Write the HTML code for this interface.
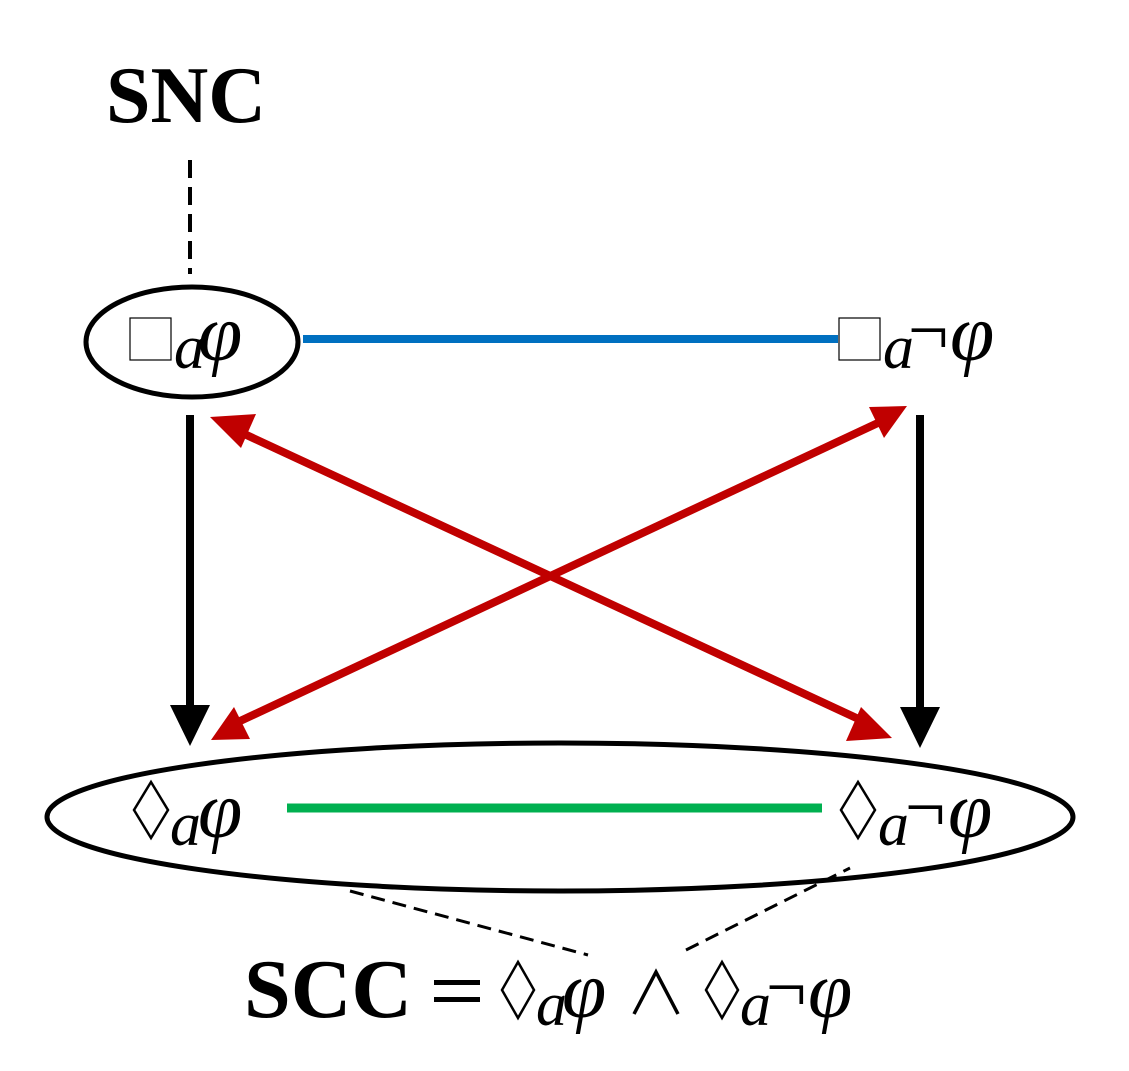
<!DOCTYPE html>
<html><head><meta charset="utf-8"><style>
html,body{margin:0;padding:0;background:#fff;}
svg{display:block;}
text{font-family:"Liberation Serif","DejaVu Serif",serif;}
</style></head><body>
<svg width="1129" height="1071" viewBox="0 0 1129 1071" xmlns="http://www.w3.org/2000/svg">
<text x="106" y="122" font-size="80" font-weight="bold">SNC</text>
<line x1="190" y1="160" x2="190" y2="274" stroke="#000" stroke-width="4" stroke-dasharray="18,9"/>
<ellipse cx="192" cy="342" rx="106" ry="55" fill="none" stroke="#000" stroke-width="5"/>
<line x1="303" y1="339" x2="838" y2="339" stroke="#0070C0" stroke-width="8"/>
<!-- top left label -->
<rect x="130" y="318" width="41" height="42" fill="none" stroke="#000" stroke-width="1.2"/>
<text x="174" y="368" font-size="62" font-style="italic">a</text>
<text x="198" y="360" font-size="80" font-style="italic">φ</text>
<!-- top right label -->
<rect x="839" y="318" width="41" height="42" fill="none" stroke="#000" stroke-width="1.2"/>
<text x="883" y="368" font-size="62" font-style="italic">a</text>
<text x="908" y="354" font-size="72">¬</text>
<text x="950" y="360" font-size="80" font-style="italic">φ</text>
<!-- black arrows -->
<line x1="190" y1="415" x2="190" y2="710" stroke="#000" stroke-width="8"/>
<polygon points="170,705 210,705 190,746" fill="#000"/>
<line x1="920" y1="415" x2="920" y2="710" stroke="#000" stroke-width="8"/>
<polygon points="900,707 940,707 920,748" fill="#000"/>
<!-- red arrows -->
<line x1="240" y1="432" x2="865" y2="722" stroke="#C00000" stroke-width="8"/>
<polygon points="210,417 256,414 241,448" fill="#C00000"/>
<polygon points="892,738 846,741 861,707" fill="#C00000"/>
<line x1="238" y1="722" x2="880" y2="422" stroke="#C00000" stroke-width="8"/>
<polygon points="211,740 234,707 250,739" fill="#C00000"/>
<polygon points="907,406 884,438 869,407" fill="#C00000"/>
<!-- bottom ellipse -->
<ellipse cx="560" cy="817" rx="513" ry="74" fill="none" stroke="#000" stroke-width="5"/>
<line x1="287" y1="808" x2="822" y2="808" stroke="#00B050" stroke-width="9"/>
<polygon points="151,782 168,810 151,838 134,810" fill="none" stroke="#000" stroke-width="2.5"/>
<text x="170" y="845" font-size="62" font-style="italic">a</text>
<text x="198" y="837" font-size="80" font-style="italic">φ</text>
<polygon points="858,782 875,810 858,838 841,810" fill="none" stroke="#000" stroke-width="2.5"/>
<text x="878" y="845" font-size="62" font-style="italic">a</text>
<text x="905" y="831" font-size="72">¬</text>
<text x="948" y="837" font-size="80" font-style="italic">φ</text>
<!-- dashed lines -->
<line x1="350" y1="891" x2="588" y2="955" stroke="#000" stroke-width="3" stroke-dasharray="14,8"/>
<line x1="686" y1="950" x2="850" y2="868" stroke="#000" stroke-width="3" stroke-dasharray="14,8"/>
<!-- SCC formula -->
<text x="244" y="1017" font-size="84" font-weight="bold">SCC</text>
<rect x="434" y="980" width="46" height="5" fill="#000"/>
<rect x="434" y="997" width="46" height="5" fill="#000"/>
<polygon points="518,962 534,990 518,1018 502,990" fill="none" stroke="#000" stroke-width="2.5"/>
<text x="536" y="1025" font-size="62" font-style="italic">a</text>
<text x="562" y="1017" font-size="80" font-style="italic">φ</text>
<polyline points="634,1014 656,972 678,1014" fill="none" stroke="#000" stroke-width="3.5"/>
<polygon points="722,962 738,990 722,1018 706,990" fill="none" stroke="#000" stroke-width="2.5"/>
<text x="740" y="1025" font-size="62" font-style="italic">a</text>
<text x="766" y="1011" font-size="72">¬</text>
<text x="808" y="1017" font-size="80" font-style="italic">φ</text>
</svg>
</body></html>
